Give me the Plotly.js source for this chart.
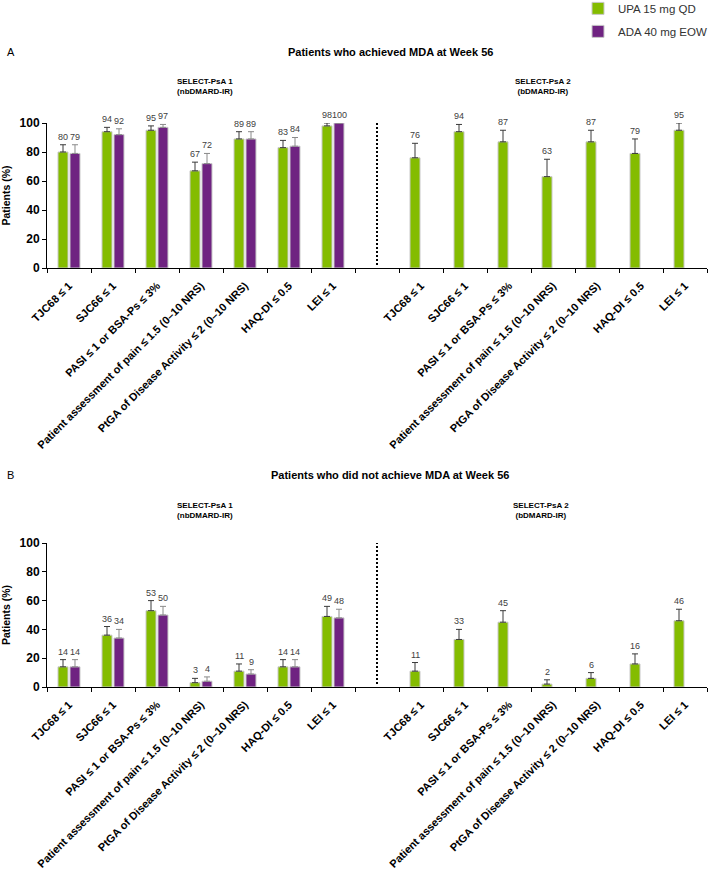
<!DOCTYPE html>
<html><head><meta charset="utf-8">
<script src="https://cdn.plot.ly/plotly-3.0.1.min.js"></script>
<style>html,body{margin:0;padding:0;background:#fff}#chart{width:708px;height:873px}</style>
</head><body><div id="chart"></div>
<script>
// ---- data ----
const categories = ["TJC68 ≤ 1", "SJC66 ≤ 1", "PASI ≤ 1 or BSA-Ps ≤ 3%",
  "Patient assessment of pain ≤ 1.5 (0–10 NRS)", "PtGA of Disease Activity ≤ 2 (0–10 NRS)",
  "HAQ-DI ≤ 0.5", "LEI ≤ 1"];
const seriesNames = ["UPA 15 mg QD", "ADA 40 mg EOW"];

// Panel A: patients who achieved MDA at week 56
const upaA_psa1 = [80, 94, 95, 67, 89, 83, 98];
const upaA_psa1_err = [5, 3, 3, 6, 5, 5, 2];
const adaA_psa1 = [79, 92, 97, 72, 89, 84, 100];
const adaA_psa1_err = [6, 4, 2, 7, 5, 6, 0];
const upaA_psa2 = [76, 94, 87, 63, 87, 79, 95];
const upaA_psa2_err = [10, 5, 8, 12, 8, 10, 5];

// Panel B: patients who did not achieve MDA at week 56
const upaB_psa1 = [14, 36, 53, 3, 11, 14, 49];
const upaB_psa1_err = [5, 6, 7, 3, 5, 5, 7];
const adaB_psa1 = [14, 34, 50, 4, 9, 14, 48];
const adaB_psa1_err = [5, 6, 6, 3, 3, 5, 6];
const upaB_psa2 = [11, 33, 45, 2, 6, 16, 46];
const upaB_psa2_err = [6, 7, 8, 3, 4, 7, 8];

const yTicks = [0, 20, 40, 60, 80, 100];

// ---- layout helpers ----
const W = 708, H = 873;
const px = x => x / W;
const py = y => 1 - y / H;
const FONT = "Liberation Sans, Arial, sans-serif";
const GREEN = "#84bc00", PURPLE = "#6f2381";

const leftX = categories.map((c, i) => i + 0.5);
const rightX = categories.map((c, i) => i + 8.5);
const allX = leftX.concat(rightX);
const nulls = categories.map(() => null);
const boundaries = Array.from({length: 16}, (_, i) => i);

function barTrace(name, color, errColor, yvals, errs, xa, ya, showlegend) {
  return {
    type: "bar", name: name, x: allX, y: yvals, xaxis: xa, yaxis: ya,
    marker: {color: color, line: {color: "#c8c8c8", width: 1}},
    error_y: {type: "data", symmetric: false, array: errs,
      arrayminus: errs.map(() => 0), color: errColor, thickness: 1, width: 3},
    showlegend: showlegend, legendgroup: name, cliponaxis: false, hoverinfo: "skip"
  };
}

const traces = [
  barTrace(seriesNames[0], GREEN, "#3a3a3a", upaA_psa1.concat(upaA_psa2), upaA_psa1_err.concat(upaA_psa2_err), "x", "y", true),
  barTrace(seriesNames[1], PURPLE, "#8a8a8a", adaA_psa1.concat(nulls), adaA_psa1_err.concat(nulls), "x", "y", true),
  barTrace(seriesNames[0], GREEN, "#3a3a3a", upaB_psa1.concat(upaB_psa2), upaB_psa1_err.concat(upaB_psa2_err), "x2", "y2", false),
  barTrace(seriesNames[1], PURPLE, "#8a8a8a", adaB_psa1.concat(nulls), adaB_psa1_err.concat(nulls), "x2", "y2", false)
];

// value labels above error bars
const annotations = [];
function addLabels(vals, errs, xs, shift, xa, ya) {
  vals.forEach((v, i) => {
    annotations.push({xref: xa, yref: ya, x: xs[i], y: v + errs[i], xshift: shift,
      yanchor: "bottom", yshift: 1, text: String(v), showarrow: false,
      font: {family: FONT, size: 9, color: "#404040"}});
  });
}
addLabels(upaA_psa1, upaA_psa1_err, leftX, -6, "x", "y");
addLabels(adaA_psa1, adaA_psa1_err, leftX, 6, "x", "y");
addLabels(upaA_psa2, upaA_psa2_err, rightX, -6, "x", "y");
addLabels(upaB_psa1, upaB_psa1_err, leftX, -6, "x2", "y2");
addLabels(adaB_psa1, adaB_psa1_err, leftX, 6, "x2", "y2");
addLabels(upaB_psa2, upaB_psa2_err, rightX, -6, "x2", "y2");

function txt(x, y, text, size, bold, extra) {
  return Object.assign({xref: "paper", yref: "paper", x: px(x), y: py(y), text: text,
    showarrow: false, xanchor: "center", yanchor: "middle",
    font: {family: FONT, size: size, color: "#000", weight: bold ? "bold" : "normal"}}, extra || {});
}
annotations.push(txt(5, 52, "A", 11, false, {xanchor: "left"}));
annotations.push(txt(390, 52, "Patients who achieved MDA at Week 56", 11, true));
annotations.push(txt(205, 87, "SELECT-PsA 1<br>(nbDMARD-IR)", 8, true));
annotations.push(txt(543, 87, "SELECT-PsA 2<br>(bDMARD-IR)", 8, true));
annotations.push(txt(5, 475, "B", 11, false, {xanchor: "left"}));
annotations.push(txt(390, 475, "Patients who did not achieve MDA at Week 56", 11, true));
annotations.push(txt(205, 510, "SELECT-PsA 1<br>(nbDMARD-IR)", 8, true));
annotations.push(txt(541, 510, "SELECT-PsA 2<br>(bDMARD-IR)", 8, true));

function xAxis(anchor, dom) {
  return {domain: dom, range: [0, 15], anchor: anchor, tickmode: "array", tickvals: allX,
    ticktext: categories.concat(categories), tickangle: -45, ticks: "",
    ticklabelstandoff: 6,
    tickfont: {family: FONT, size: 11, color: "#000", weight: "bold"},
    showline: true, linecolor: "#000", linewidth: 1, showgrid: false, zeroline: false,
    minor: {tickmode: "array", tickvals: boundaries, ticks: "outside", ticklen: 4,
      tickcolor: "#000", tickwidth: 1, showgrid: false},
    fixedrange: true};
}
function yAxis(anchor, dom) {
  return {domain: dom, range: [0, 100], anchor: anchor, tickmode: "array", tickvals: yTicks,
    ticks: "outside", ticklen: 4, tickcolor: "#000", showline: true, linecolor: "#000",
    linewidth: 1, showgrid: false, zeroline: false,
    tickfont: {family: FONT, size: 12, color: "#000", weight: "bold"},
    title: {text: "Patients (%)", standoff: 6, font: {family: FONT, size: 10.5, color: "#000", weight: "bold"}},
    fixedrange: true};
}

const layout = {
  width: W, height: H, margin: {l: 0, r: 0, t: 0, b: 0, autoexpand: false},
  paper_bgcolor: "#fff", plot_bgcolor: "#fff",
  barmode: "group", bargap: 0.455, bargroupgap: 0.167,
  font: {family: FONT, color: "#000"},
  xaxis: xAxis("y", [px(47), px(707)]),
  yaxis: yAxis("x", [py(268), py(123)]),
  xaxis2: xAxis("y2", [px(47), px(707)]),
  yaxis2: yAxis("x2", [py(687), py(543)]),
  showlegend: true,
  legend: {x: px(578), xanchor: "left", y: 1.007, yanchor: "top", bgcolor: "rgba(0,0,0,0)",
    font: {family: FONT, size: 11.5, color: "#333"}, traceorder: "grouped", tracegroupgap: 4,
    itemwidth: 30},
  annotations: annotations,
  shapes: [
    {type: "line", xref: "x", yref: "y", x0: 7.5, x1: 7.5, y0: 2, y1: 110,
      line: {color: "#000", width: 2, dash: "2px,2px"}},
    {type: "line", xref: "x2", yref: "y2", x0: 7.5, x1: 7.5, y0: 2, y1: 102,
      line: {color: "#000", width: 2, dash: "2px,2px"}}
  ]
};

Plotly.newPlot("chart", traces, layout, {displayModeBar: false, staticPlot: true});
</script>
</body></html>
